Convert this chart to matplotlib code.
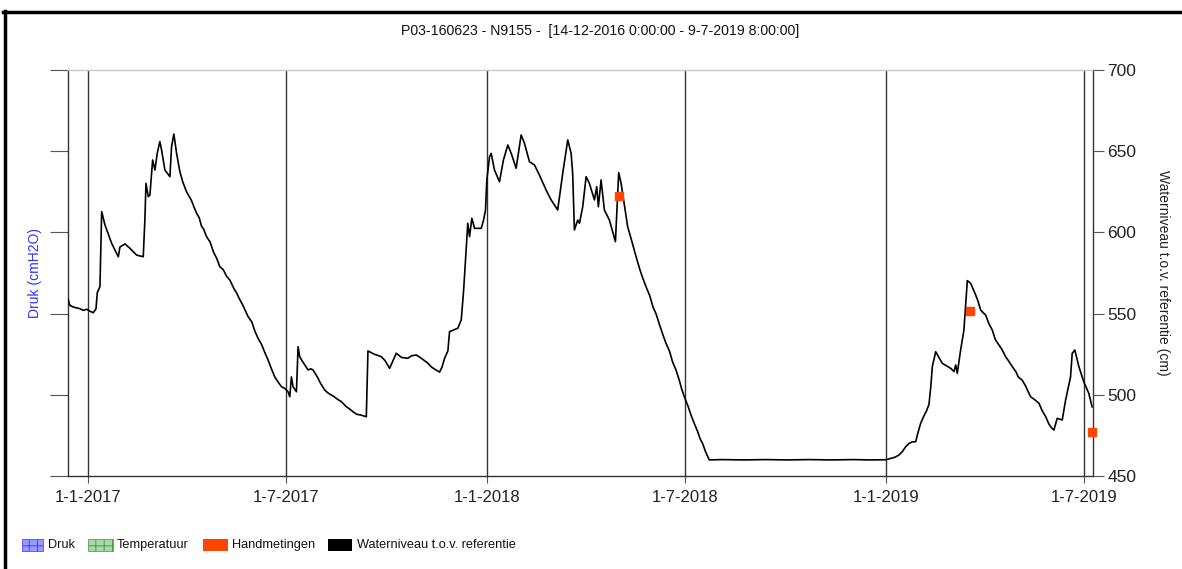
import matplotlib
matplotlib.use("Agg")
import matplotlib.pyplot as plt
from matplotlib.patches import Rectangle
from matplotlib.lines import Line2D
import pandas as pd

plt.rcParams['font.family'] = ['Liberation Sans', 'DejaVu Sans']
plt.rcParams['hatch.linewidth'] = 0.6

title = "P03-160623 - N9155 -  [14-12-2016 0:00:00 - 9-7-2019 8:00:00]"
x_start = "2016-12-14 00:00"
x_end = "2019-07-09 08:00"

# Waterniveau t.o.v. referentie: days since 1-1-2017 and level (cm), in segments
days_a = [-18, -16.2, -13, -10, -7.0, -4, -0.9, 2, 5.1, 7.6, 8.8, 11.2, 12.8]
vals_a = [559, 555, 554, 553.5, 553, 552, 552.7, 551.5, 550.5, 553, 563, 566.6, 612.8]

days_b = [15.8, 21.9, 28.0, 29.5, 34.1, 38.6, 44.8, 50.8, 52.3, 53.3, 55.4, 56.9, 59.4]
vals_b = [604.6, 593.3, 585, 591, 592.9, 590.2, 586, 585, 607.6, 630.2, 622, 623, 644.6]

days_c = [61.5, 63.6, 66.0, 67.6, 70.6, 75.2, 76.7, 78.8, 81.3, 84.3, 87, 90.4]
vals_c = [638.4, 648.7, 655.9, 650.7, 638.4, 634.3, 652.8, 660.6, 648.7, 637.4, 631, 625]

days_d = [93, 95, 97, 99.6, 102, 104, 106, 108.7, 112, 115, 118, 120.8, 124, 127, 130, 134, 136, 138.5,
          142, 144, 146.7, 150, 153, 155.8, 159, 162, 165, 168, 171.1, 174, 177.2, 180, 183.2, 184.8]
vals_d = [622, 619.5, 616, 611.8, 609, 604, 602, 597.4, 594, 588, 584, 578.9, 577, 573, 570.7, 565, 563, 559.4,
          555, 552, 548.1, 545, 539, 534.8, 531, 526, 521.4, 516, 511, 508, 505, 504, 501.9, 498.8]

days_e = [186.3, 187.8, 190.9, 192.4, 193.9, 196, 198, 201.5, 204, 206.1, 210, 213, 216.8, 220, 225, 229, 232,
          236, 239, 242.6, 246, 250, 254.8, 256.3, 262, 268.5, 272, 276.1, 282.2, 287, 292.8, 296, 300.5,
          304, 308.1, 311, 314.5, 318, 321.8, 324, 326.4, 329.4, 330.9, 338.5, 341.6, 343.7, 346.2, 347.6,
          349.2, 351.3, 353.8, 359.9, 362.0, 363.8]
vals_e = [511, 505, 501.9, 529.6, 523.5, 521, 519, 515.3, 516, 515.3, 511, 507, 502.9, 501, 499, 497, 495.8,
          493, 491.5, 489.6, 488, 487.5, 486.5, 527, 525, 523.5, 521, 516.3, 525.6, 523, 522.5, 524, 524.5,
          523, 521, 519.5, 517, 515.5, 514, 517, 522.5, 527, 538.9, 541, 546.1, 563.5, 591.2, 605.6,
          597.4, 608.7, 602.5, 602.5, 607.6, 613.8]

days_f = [365.0, 367.5, 369.0, 372.0, 376.6, 380.2, 384.2, 387.3, 391.8, 396.4, 399.4, 404.0, 408.6, 413.1,
          419.2, 423.8, 429.8, 434.4, 439.0, 442.1, 443.5, 445.1, 448.1, 449.7, 452.7, 455.8, 458.8, 463.4,
          465.5, 467.0, 469.5, 472.5, 477.1, 482.6, 485.6, 487.8]
vals_f = [632.3, 646.6, 648.7, 638.4, 631.2, 644.6, 653.8, 648.7, 639.5, 660, 654.9, 643.5, 641.5, 635.3,
          626.1, 620, 613.8, 636.3, 656.9, 648.7, 636.3, 601.5, 607.6, 605.6, 615.8, 634.3, 630.2, 620,
          628.2, 615.8, 632.3, 613.8, 607.6, 594.3, 636.8, 630.2]

days_g = [493.8, 497, 501.5, 505, 507, 510.6, 514, 517, 519.7, 523, 526, 528.9, 532, 535, 538,
          541, 543, 545.6, 549, 552, 554.7, 558, 560, 562.3, 565, 568.4]
vals_g = [603.5, 596, 585, 577, 573, 566.5, 561, 554, 550, 543, 537, 531.6, 527, 520, 515.3,
          509, 504, 498.8, 493, 487, 482.4, 477, 473, 470.1, 465, 459.9]

days_h = [580, 600, 620, 640, 660, 680, 700, 715, 729.8]
vals_h = [460.1, 459.9, 460.1, 459.9, 460.1, 459.9, 460.1, 459.9, 460]

days_i = [735.5, 738, 741.9, 745, 748, 751, 754, 757.2, 759, 761.7, 764, 767, 769.3, 771, 772.4, 775.5,
          781.5, 789.2, 792.2, 793.8, 795.2, 798.3, 801.3, 804.4, 807.5, 812.0, 814, 816.6, 819, 821.2,
          824, 827.2, 830, 833.3, 836, 839.4, 842, 845.5, 849, 851, 854.6, 858, 860, 862.3, 866, 869.9,
          873, 876, 879, 881, 883.6, 886.6, 891.2, 894.3, 898.8, 900.3, 902.7, 906.4, 910.9, 915.5, 918.5]
vals_i = [461, 461.5, 462.9, 465, 468, 470, 471, 471.1, 476, 482.4, 486, 490, 494, 505, 517.4, 526.5,
          519.4, 516.3, 514.3, 518.4, 513.2, 527.6, 539.9, 570.3, 568.6, 561.5, 558, 552.2, 550.5, 549.1,
          544, 539.9, 534, 530.7, 528, 523.5, 521, 517.4, 514, 511, 509, 505, 502, 498.8, 497, 494.8,
          490, 486.6, 482, 480, 478.3, 485.5, 484.5, 496.8, 511, 525.5, 527.6, 517.4, 508, 500.9, 492.6]

wl_days = days_a + days_b + days_c + days_d + days_e + days_f + days_g + days_h + days_i
wl_vals = vals_a + vals_b + vals_c + vals_d + vals_e + vals_f + vals_g + vals_h + vals_i

# Handmetingen
hm_dates = ["2018-05-02", "2019-03-19", "2019-07-08"]
hm_vals = [622.6, 551.8, 476.9]

tick_dates = ["2017-01-01", "2017-07-01", "2018-01-01", "2018-07-01", "2019-01-01", "2019-07-01"]
tick_labels = ["1-1-2017", "1-7-2017", "1-1-2018", "1-7-2018", "1-1-2019", "1-7-2019"]
y_ticks = [450, 500, 550, 600, 650, 700]

legend_labels = ["Druk", "Temperatuur", "Handmetingen", "Waterniveau t.o.v. referentie"]

W, H = 1182, 569
fig = plt.figure(figsize=(W / 100, H / 100), dpi=100)
ax = fig.add_axes([68 / W, 1 - 476 / H, (1093 - 68) / W, (476 - 70) / H])

n = min(len(wl_days), len(wl_vals))
wl_t = pd.Timestamp("2017-01-01") + pd.to_timedelta(wl_days[:n], unit="D")
ax.plot(wl_t, wl_vals[:n], color="black", lw=1.2, zorder=3)
ax.plot(pd.to_datetime(hm_dates), hm_vals, ls="none", marker="s", ms=5.2,
        color="#ff4500", mec="#ff4500", zorder=4, clip_on=False)

ax.set_xlim(pd.Timestamp(x_start), pd.Timestamp(x_end))
ax.set_ylim(450, 700)

tdates = pd.to_datetime(tick_dates)
for d in tdates:
    ax.axvline(d, color="#333333", lw=1.0, zorder=2)
ax.set_xticks(tdates)
ax.set_xticklabels(tick_labels, fontsize=12, color="#222222")
ax.tick_params(axis="x", length=5, width=0.8, color="#555555", pad=5)

ax.set_yticks(y_ticks)
ax.tick_params(axis="y", left=True, labelleft=False, length=13, width=0.8, color="#555555")

for s in ["left", "bottom", "right"]:
    ax.spines[s].set_color("#333333")
    ax.spines[s].set_linewidth(1.0)
ax.spines["top"].set_color("#c8c8c8")
ax.spines["top"].set_linewidth(1.0)

ax2 = ax.twinx()
ax2.set_ylim(450, 700)
ax2.set_yticks(y_ticks)
ax2.set_yticklabels([str(v) for v in y_ticks], fontsize=12.5, color="#222222")
ax2.tick_params(axis="y", length=8, width=0.8, color="#555555", pad=2.5)
for s in ax2.spines.values():
    s.set_visible(False)

ax.set_ylabel("Druk (cmH2O)", color="#3333ff", fontsize=10)
ax.yaxis.set_label_coords(-(68 - 42) / (1093 - 68), 0.5)
fig.text(1163 / W, 1 - 273 / H, "Waterniveau t.o.v. referentie (cm)", rotation=-90,
         ha="center", va="center", fontsize=10, color="#222222")

fig.text(600 / W, 1 - 31 / H, title, ha="center", va="center", fontsize=10.2, color="#111111")

# legend
leg_y = 545
items = [(22, 43, 48, "#9999ff", "#3333ff", "++"),
         (88, 113, 117, "#a8d8a8", "#3a9a3a", "++"),
         (203, 228, 232, "#ff4500", "#ff4500", None),
         (328, 352, 357, "#000000", "#000000", None)]
for (x0, x1, tx, fc, ec, hatch), lab in zip(items, legend_labels):
    r = Rectangle((x0 / W, 1 - (leg_y + 6) / H), (x1 - x0) / W, 12 / H,
                  transform=fig.transFigure, facecolor=fc, edgecolor=ec,
                  hatch=hatch, lw=0.0 if hatch is None else 0.5)
    fig.patches.append(r)
    fig.text(tx / W, 1 - leg_y / H, lab, ha="left", va="center", fontsize=9.2, color="#111111")

# outer frame
fig.lines.append(Line2D([4.5 / W, 4.5 / W], [0, 1 - 11 / H], transform=fig.transFigure,
                        color="black", lw=2.5))
fig.lines.append(Line2D([3 / W, 1], [1 - 11.5 / H, 1 - 11.5 / H], transform=fig.transFigure,
                        color="black", lw=2.5))

fig.savefig("out.png", dpi=100)
